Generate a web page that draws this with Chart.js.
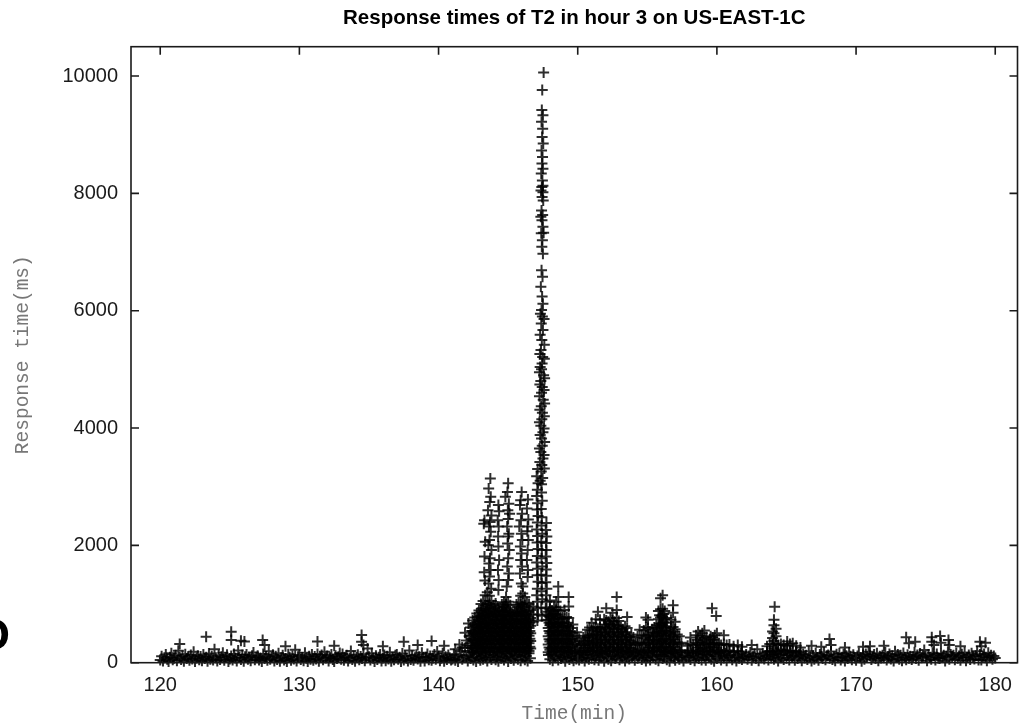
<!DOCTYPE html>
<html><head><meta charset="utf-8">
<script src="https://cdn.jsdelivr.net/npm/chart.js@4"></script>
<style>html,body{margin:0;padding:0;background:#fff;}#wrap{width:1025px;height:724px;position:relative;}canvas{display:block;}</style>
</head><body><div id="wrap"><canvas id="c" width="1025" height="724"></canvas></div>
<script>
const chartTitle = "Response times of T2 in hour 3 on US-EAST-1C";
const xTitle = "Time(min)";
const yTitle = "Response time(ms)";
const xTicks = [120,130,140,150,160,170,180];
const yTicks = [0,2000,4000,6000,8000,10000];

// steady traffic band: [minute, ms]
const band = [
[120,45],[120.1,110],[120.2,30],[120.3,85],[120.4,140],[120.5,60],[120.6,20],[120.7,95],[120.8,160],[120.9,50],
[121,75],[121.1,125],[121.2,35],[121.3,205],[121.4,90],[121.5,55],[121.6,115],[121.7,25],[121.8,145],[121.9,70],
[122,100],[122.1,40],[122.2,130],[122.3,65],[122.4,185],[122.5,20],[122.6,80],[122.7,120],[122.8,50],[122.9,105],
[123,35],[123.1,140],[123.2,70],[123.3,95],[123.4,25],[123.5,155],[123.6,60],[123.7,110],[123.8,45],[123.9,230],
[124,85],[124.1,30],[124.2,125],[124.3,55],[124.4,100],[124.5,170],[124.6,40],[124.7,90],[124.8,135],[124.9,20],
[125,65],[125.1,115],[125.2,45],[125.3,150],[125.4,80],[125.5,30],[125.6,210],[125.7,95],[125.8,55],[125.9,130],
[126,25],[126.1,100],[126.2,140],[126.3,60],[126.4,85],[126.5,35],[126.6,120],[126.7,175],[126.8,50],[126.9,95],
[127,120],[127.1,45],[127.2,80],[127.3,20],[127.4,150],[127.5,70],[127.6,105],[127.7,40],[127.8,195],[127.9,60],
[128,90],[128.1,135],[128.2,30],[128.3,110],[128.4,55],[128.5,160],[128.6,25],[128.7,85],[128.8,125],[128.9,45],
[129,70],[129.1,20],[129.2,145],[129.3,95],[129.4,40],[129.5,115],[129.6,65],[129.7,220],[129.8,30],[129.9,100],
[130,130],[130.1,55],[130.2,90],[130.3,35],[130.4,170],[130.5,75],[130.6,20],[130.7,110],[130.8,60],[130.9,140],
[131,40],[131.1,105],[131.2,65],[131.3,150],[131.4,25],[131.5,95],[131.6,130],[131.7,50],[131.8,185],[131.9,80],
[132,115],[132.1,30],[132.2,85],[132.3,140],[132.4,55],[132.5,20],[132.6,120],[132.7,70],[132.8,100],[132.9,165],
[133,60],[133.1,150],[133.2,40],[133.3,95],[133.4,125],[133.5,30],[133.6,80],[133.7,200],[133.8,55],[133.9,110],
[134,25],[134.1,90],[134.2,135],[134.3,50],[134.4,105],[134.5,70],[134.6,145],[134.7,35],[134.8,85],[134.9,240],
[135,100],[135.1,45],[135.2,160],[135.3,75],[135.4,20],[135.5,120],[135.6,55],[135.7,95],[135.8,140],[135.9,30],
[136,80],[136.1,130],[136.2,35],[136.3,110],[136.4,65],[136.5,180],[136.6,25],[136.7,90],[136.8,50],[136.9,125],
[137,140],[137.1,60],[137.2,95],[137.3,20],[137.4,155],[137.5,45],[137.6,115],[137.7,75],[137.8,30],[137.9,210],
[138,55],[138.1,120],[138.2,40],[138.3,85],[138.4,135],[138.5,65],[138.6,100],[138.7,25],[138.8,170],[138.9,90],
[139,30],[139.1,95],[139.2,150],[139.3,50],[139.4,115],[139.5,40],[139.6,80],[139.7,140],[139.8,60],[139.9,190],
[140,110],[140.1,35],[140.2,75],[140.3,160],[140.4,25],[140.5,100],[140.6,55],[140.7,130],[140.8,85],[140.9,45],
[141,65],[141.1,145],[141.2,40],[141.3,95],[141.4,20],[141.5,125],[141.6,200],[141.7,60],[141.8,110],[141.9,250],
[142,90],[142.1,30],[142.2,130],[142.3,70],[142.4,175],[142.5,45],[142.6,105],[142.7,20],[142.8,150],[142.9,80],
[143,40],[143.1,115],[143.2,60],[143.3,140],[143.4,85],[143.5,30],[143.6,170],[143.7,95],[143.8,55],[143.9,125],
[144,135],[144.1,50],[144.2,100],[144.3,25],[144.4,160],[144.5,75],[144.6,110],[144.7,45],[144.8,90],[144.9,145],
[145,20],[145.1,120],[145.2,70],[145.3,155],[145.4,40],[145.5,100],[145.6,130],[145.7,60],[145.8,185],[145.9,35],
[146,95],[146.1,140],[146.2,50],[146.3,115],[146.4,30],[146.5,160],[146.6,75],
[147.9,130],
[148,60],[148.1,150],[148.2,35],[148.3,110],[148.4,85],[148.5,190],[148.6,45],[148.7,125],[148.8,70],[148.9,100],
[149,140],[149.1,25],[149.2,95],[149.3,165],[149.4,55],[149.5,120],[149.6,80],[149.7,35],[149.8,150],[149.9,65],
[150,110],[150.1,45],[150.2,175],[150.3,80],[150.4,130],[150.5,30],[150.6,95],[150.7,145],[150.8,60],[150.9,200],
[151,75],[151.1,135],[151.2,50],[151.3,105],[151.4,165],[151.5,40],[151.6,120],[151.7,85],[151.8,150],[151.9,25],
[152,155],[152.1,90],[152.2,60],[152.3,190],[152.4,35],[152.5,115],[152.6,140],[152.7,70],[152.8,100],[152.9,225],
[153,50],[153.1,125],[153.2,85],[153.3,160],[153.4,30],[153.5,105],[153.6,145],[153.7,65],[153.8,180],[153.9,95],
[154,120],[154.1,40],[154.2,150],[154.3,75],[154.4,110],[154.5,170],[154.6,55],[154.7,135],[154.8,90],[154.9,30],
[155,85],[155.1,160],[155.2,45],[155.3,120],[155.4,95],[155.5,200],[155.6,60],[155.7,140],[155.8,35],[155.9,110],
[156,135],[156.1,70],[156.2,105],[156.3,180],[156.4,50],[156.5,150],[156.6,25],[156.7,115],[156.8,165],[156.9,80],
[157,40],[157.1,145],[157.2,95],[157.3,60],[157.4,175],[157.5,110],[157.6,30],[157.7,130],[157.8,85],[157.9,210],
[158,100],[158.1,55],[158.2,165],[158.3,120],[158.4,35],[158.5,90],[158.6,150],[158.7,70],[158.8,185],[158.9,45],
[159,150],[159.1,85],[159.2,40],[159.3,130],[159.4,105],[159.5,195],[159.6,60],[159.7,145],[159.8,25],[159.9,115],
[160,70],[160.1,170],[160.2,110],[160.3,45],[160.4,140],[160.5,80],[160.6,155],[160.7,35],[160.8,120],[160.9,95],
[161,125],[161.1,50],[161.2,185],[161.3,90],[161.4,30],[161.5,135],[161.6,75],[161.7,160],[161.8,55],[161.9,105],
[162,90],[162.1,140],[162.2,60],[162.3,115],[162.4,175],[162.5,40],[162.6,100],[162.7,150],[162.8,70],[162.9,230],
[163,35],[163.1,120],[163.2,85],[163.3,155],[163.4,65],[163.5,110],[163.6,190],[163.7,45],[163.8,135],[163.9,80],
[164,145],[164.1,60],[164.2,100],[164.3,170],[164.4,30],[164.5,125],[164.6,85],[164.7,150],[164.8,55],[164.9,205],
[165,75],[165.1,130],[165.2,45],[165.3,165],[165.4,95],[165.5,115],[165.6,40],[165.7,180],[165.8,70],[165.9,140],
[166,110],[166.1,35],[166.2,150],[166.3,80],[166.4,125],[166.5,55],[166.6,195],[166.7,95],[166.8,30],[166.9,120],
[167,60],[167.1,165],[167.2,90],[167.3,40],[167.4,140],[167.5,105],[167.6,70],[167.7,175],[167.8,50],[167.9,115],
[168,130],[168.1,75],[168.2,190],[168.3,55],[168.4,100],[168.5,35],[168.6,145],[168.7,85],[168.8,160],[168.9,45],
[169,95],[169.1,150],[169.2,30],[169.3,120],[169.4,70],[169.5,175],[169.6,110],[169.7,50],[169.8,135],[169.9,80],
[170,40],[170.1,115],[170.2,165],[170.3,85],[170.4,25],[170.5,130],[170.6,60],[170.7,150],[170.8,100],[170.9,185],
[171,120],[171.1,55],[171.2,95],[171.3,140],[171.4,70],[171.5,160],[171.6,35],[171.7,110],[171.8,80],[171.9,125],
[172,85],[172.1,175],[172.2,45],[172.3,105],[172.4,150],[172.5,65],[172.6,120],[172.7,30],[172.8,195],[172.9,90],
[173,140],[173.1,60],[173.2,125],[173.3,35],[173.4,165],[173.5,95],[173.6,50],[173.7,135],[173.8,75],[173.9,110],
[174,55],[174.1,100],[174.2,180],[174.3,70],[174.4,130],[174.5,40],[174.6,155],[174.7,85],[174.8,115],[174.9,215],
[175,105],[175.1,35],[175.2,140],[175.3,90],[175.4,60],[175.5,170],[175.6,120],[175.7,45],[175.8,150],[175.9,80],
[176,70],[176.1,155],[176.2,95],[176.3,125],[176.4,30],[176.5,110],[176.6,185],[176.7,60],[176.8,140],[176.9,100],
[177,125],[177.1,50],[177.2,165],[177.3,75],[177.4,115],[177.5,40],[177.6,145],[177.7,90],[177.8,175],[177.9,35],
[178,90],[178.1,130],[178.2,55],[178.3,160],[178.4,100],[178.5,65],[178.6,120],[178.7,195],[178.8,45],[178.9,140],
[179,45],[179.1,110],[179.2,150],[179.3,85],[179.4,35],[179.5,170],[179.6,95],[179.7,125],[179.8,60],[179.9,115],
[180,80]
];

// surge before the spike: [minute, ms, ms, ...]
const surge = [
[141.2,230],[141.5,310],[141.7,260],[141.9,510],[142.0,380],[142.1,290],[142.15,670],[142.2,450],
[142.3,200,330,470,600],
[142.45,180,290,410,540,720],
[142.6,230,350,490,620,770],
[142.75,170,300,430,560,690,840],
[142.9,210,340,480,600,740,890],
[143.05,190,320,450,590,710,860,1000],
[143.2,240,360,500,620,760,900,1050],
[143.35,180,310,440,570,700,840,980,1150],
[143.5,220,350,480,610,750,880,1020,1200],
[143.65,200,330,460,590,720,860,1000,1140],
[143.8,250,370,510,630,770,910,1050],
[143.95,190,320,450,580,720,850,980],
[144.1,210,340,470,600,730,870,1010],
[144.25,180,310,440,570,700,830,960],
[144.4,230,360,490,620,750,880],
[144.55,200,330,460,590,720,860,990],
[144.7,220,350,480,610,740,880,1030],
[144.85,190,320,450,580,710,850,990,1120],
[145.0,240,370,500,630,760,900,1040],
[145.15,200,330,460,590,720,860,980],
[145.3,180,310,440,570,700,830],
[145.45,220,350,480,610,740,870],
[145.6,200,330,460,590,720,850,990],
[145.75,230,360,490,620,750,890,1030],
[145.9,190,320,450,580,710,850,990,1140],
[146.05,210,340,470,600,730,870,1010,1180,1300],
[146.2,180,310,440,570,700,840,980,1120],
[146.35,220,350,480,610,740,880,1020],
[146.5,200,330,460,590,720,860,1000],
[146.62,240,370,500,630,760,900],
[146.8,700,820,960],
[143.72,3140],[143.6,2970],[143.75,2830],[143.68,2740],[143.55,2600],[143.8,2510],[143.7,2400],[143.62,2320],[143.75,2230],
[143.66,2090],[143.58,2000],[143.8,1920],[143.7,1780],[143.62,1690],[143.74,1580],[143.66,1470],[143.6,1350],[143.78,1260],
[143.3,2430],[143.25,2370],[143.35,2060],[143.3,1810],[143.28,1540],[143.33,1400],
[144.3,2690],[144.35,2580],[144.25,2430],[144.32,2320],[144.28,2150],[144.3,1980],[144.35,1750],[144.27,1580],[144.32,1410],[144.3,1240],
[145.0,3060],[144.95,2910],[144.8,2830],[145.05,2710],[144.98,2600],[145.1,2540],[145.0,2450],[144.93,2320],[145.05,2200],
[145.0,2150],[144.96,2030],[145.08,1920],[145.0,1780],[144.94,1640],[145.05,1520],[145.0,1410],[144.9,1300],
[145.97,2910],[145.9,2770],[145.85,2690],[146.0,2540],[145.92,2430],[145.8,2320],[145.95,2200],[146.02,2090],[145.88,1980],
[145.96,1860],[145.9,1750],[146.0,1640],[145.85,1520],[145.95,1350],
[146.42,2780],[146.35,2630],[146.45,2440],[146.4,2320],[146.38,2240],[146.45,2090],[146.4,1920],[146.35,1750],[146.42,1580],[146.4,1460]
];

// the spike around minute 147
const spike = [
[147.55,10060],[147.45,9760],[147.42,9420],[147.5,9330],[147.4,9220],[147.48,9100],[147.44,8960],[147.52,8850],[147.4,8730],
[147.47,8620],[147.43,8510],[147.5,8420],[147.38,8340],[147.46,8220],[147.5,8130],[147.42,8110],[147.36,8050],[147.5,8020],
[147.44,7940],[147.52,7880],[147.4,7710],[147.48,7630],[147.35,7600],[147.43,7540],[147.5,7430],[147.55,7330],[147.38,7320],
[147.46,7200],[147.42,7090],[147.5,6970],[147.4,6690],[147.47,6580],[147.35,6410],[147.44,6240],[147.5,6120],[147.4,6010],
[147.32,5950],[147.46,5900],[147.58,5860],[147.38,5780],[147.5,5670],[147.3,5590],[147.42,5500],[147.6,5420],[147.36,5330],
[147.28,5260],[147.48,5210],[147.6,5180],[147.44,5100],[147.3,5040],[147.4,5000],[147.25,4950],[147.55,4900],[147.62,4850],
[147.35,4800],[147.28,4740],[147.45,4700],[147.58,4650],[147.4,4600],[147.25,4540],[147.52,4480],[147.62,4420],[147.38,4370],
[147.28,4310],[147.46,4260],[147.6,4200],[147.42,4150],[147.25,4100],[147.35,4040],[147.58,3990],[147.5,3930],[147.3,3880],
[147.4,3820],[147.62,3760],[147.45,3700],[147.25,3650],[147.35,3590],[147.58,3540],[147.5,3480],[147.28,3420],[147.42,3370],
[147.6,3310],[147.38,3260],[147.48,3150],[147.3,3100],[147.4,3040],
[147.12,3300],[147.05,3180],[147.15,3060],[147.1,2950],[147.05,2840],[147.12,2720],[147.08,2610],[147.15,2500],[147.1,2390],
[147.05,2270],[147.12,2160],[147.08,2050],[147.15,1940],[147.1,1820],[147.05,1710],[147.12,1600],[147.08,1490],[147.15,1380],
[147.1,1260],[147.05,1150],[147.12,1040],[147.08,930],[147.15,820],[147.1,720],
[147.4,2900],[147.45,2760],[147.38,2620],[147.42,2480],[147.4,2340],[147.45,2200],[147.38,2060],[147.42,1920],[147.4,1780],
[147.45,1640],[147.38,1500],[147.42,1360],[147.4,1220],[147.45,1080],[147.38,940],[147.42,800],
[147.75,2380],[147.7,2260],[147.78,2150],[147.72,2040],[147.76,1920],[147.7,1810],[147.78,1700],[147.73,1590],[147.76,1480],
[147.7,1370],[147.78,1260],[147.72,1150],[147.76,1040],[147.7,930],[147.78,820],[147.73,720]
];

// tail of the event: [minute, ms, ms, ...]
const after = [
[147.88,180,310,450,590,730,870],
[148.0,220,360,500,640,780,920,1060],
[148.15,190,330,470,610,750,890],
[148.3,240,380,520,660,800,950],
[148.45,200,340,480,620,760,900,1040],
[148.6,230,370,510,650,790,940,1120,1300],
[148.75,180,320,460,600,740,880],
[148.9,210,350,490,630,770],
[149.05,190,330,470,610,750,900],
[149.2,220,360,500,640,780],
[149.35,200,340,480,620,760,960,1120],
[149.5,180,310,450,590],
[149.65,230,370,510,650],
[149.8,190,320,460],
[149.95,210,350,520],
[150.1,170,290,410],[150.25,200,320],[150.4,180,300,430],[150.55,210,330,460],[150.7,190,310,440,560],
[150.85,220,340,470,600],[151.0,180,300,420,550,680],[151.15,200,330,460,590],[151.3,230,350,480,610,740],
[151.45,190,320,450,580,870],[151.6,210,340,470,600,730],[151.75,180,300,430,560],[151.9,220,350,480,610,740],
[152.05,200,330,460,590,720,930],[152.2,190,310,440,570,700],[152.35,230,360,490,620,760],[152.5,200,330,460,590,720,850],
[152.65,180,310,440,570,700],[152.8,220,350,480,620,760,900,1120],[152.95,190,320,450,580,710],[153.1,210,340,470,600],
[153.25,180,310,440,570],[153.4,230,360,490,620],[153.55,200,330,460,590,780],[153.7,190,310,440],[153.85,220,350,480],
[154.0,180,300,430],[154.15,210,330],[154.3,190,320,450],[154.45,230,350,560],[154.6,200,330,470]
];

// later bursts: [minute, ms, ms, ...]
const bumps = [
[154.75,180,300,420,550],[154.9,210,340,470,610,770],[155.05,190,320,450,590,730],[155.2,220,350,480],
[155.35,180,310,440,570],[155.5,200,330,460,600],[155.65,230,360,500,640],[155.8,190,320,460,600,740,880],
[155.95,210,350,490,630,770,910,1100],[156.1,220,360,500,640,780,920,1150],[156.25,180,320,460,600,740,880],
[156.4,200,340,480,620,760],[156.55,230,360,500],[156.7,190,320,450,590,730],[156.85,210,340,470,610,850,980],
[157.0,180,310,440,570,700],[157.15,220,350,480],[157.3,190,320,450],[157.45,210,340],
[157.9,170,290],[158.1,200,320,430],[158.3,180,300],[158.5,210,340,470],[158.65,190,310,530],[158.8,220,350,460],
[158.95,180,300,420,500],[159.1,210,330,550],[159.25,190,320,440],[159.4,230,350],[159.55,200,320,450],[159.65,926],
[159.7,180,310,430],[159.85,220,340,470],[159.95,796],[160.0,190,310,500],[160.15,210,330],[160.3,180,300],
[160.5,200,320,470],[160.7,190,300],[160.9,210,310],[161.2,180,280],[161.5,200,300],[161.8,190,270],
[163.6,180,280],[163.8,200,320],[164.0,190,310,420,530],[164.1,240,370,500,640,730],[164.15,955],[164.25,210,330,450,580],
[164.4,190,300],[164.6,220,320],[164.8,200,300],[165.05,180,290,360],[165.25,210,320],[165.45,190,330],[165.7,200,290],[166.0,180,260]
];

// extra requests inside the busiest stretches: [minute, ms, ms, ...]
const crowded = [
[142.38,260,400,540],[142.53,240,370,500,650],[142.68,260,390,520,640],[142.83,250,380,510,650,780],
[142.98,270,400,530,670,800],[143.13,250,390,520,650,790,930],[143.28,260,400,540,680,820],[143.43,240,380,510,650,790,920],
[143.58,270,410,540,680,820,960],[143.73,250,390,520,660,800,940],[143.88,260,400,540,680,820],[144.03,240,380,510,650,790,930],
[144.18,270,410,540,670,800],[144.33,250,390,520,650,780,900],[144.48,260,400,530,670,810],[144.63,240,380,520,660,800,940],
[144.78,270,410,540,680,810,960],[144.93,250,390,520,660,790,930],[145.08,260,400,540,680,820],[145.23,240,380,510,650,790],
[145.38,270,410,540,670,800],[145.53,250,390,520,660,800],[145.68,260,400,540,680,820,950],[145.83,240,380,510,650,790,920],
[145.98,270,410,540,680,820,960],[146.13,250,390,520,660,800,940],[146.28,260,400,540,680,820],[146.43,240,380,510,650,790],
[146.56,270,410,540,680],
[147.94,260,400,540,680,800],[148.08,250,390,530,670,820],[148.23,270,410,550,690,840],[148.38,260,400,540,680,830],
[148.53,250,390,530,670,820],[148.68,270,410,550,690],[148.83,260,400,540,680],[148.98,250,390,530,670],
[149.13,270,410,550],[149.28,260,400,540,680],[149.43,250,390,530],[149.58,270,410],
[150.48,250,370],[150.78,260,380],[151.08,250,370,490],[151.38,270,400,530],[151.68,260,390,520],[151.98,250,380,510,650],
[152.28,270,400,530,660],[152.58,260,390,520,650],[152.88,250,380,510,640],[153.18,270,400,530],[153.48,260,390,520],[153.78,250,380],
[155.13,260,390],[155.43,250,380,510],[155.73,270,400,530],[155.88,260,390,530,670,810],[156.03,250,380,520,660,800],
[156.18,270,410,550,690,830],[156.33,260,400,540,680],[156.63,250,380,510],[156.93,270,400,530],
[158.58,260,390],[159.03,250,380],[159.48,270,400],[159.78,260,390]
];

// isolated slow requests: [minute, ms]
const outliers = [
[121.4,320],[123.3,443],[125.1,528],[125.1,386],[125.8,375],[126.05,360],[127.36,386],[127.5,300],[129.0,280],[131.3,360],
[132.5,290],[134.47,472],[134.47,358],[134.6,300],[136.0,280],[137.5,358],[138.5,300],[139.5,370],[140.4,290],[168.09,404],
[168.2,300],[170.5,270],[172.0,290],[173.6,433],[173.8,330],[174.25,358],[175.44,433],[175.44,358],[175.6,300],[176.04,455],
[176.1,340],[176.64,387],[176.7,300],[177.5,280],[178.9,358],[179.3,340],[179.0,280],[162.5,300],[166.8,290],[167.5,270],
[169.2,260],[171.0,280]
];

const toPoints = rows => rows.flatMap(([t, ...vs]) => vs.map(v => ({x: t, y: v})));
const markStyle = {
  showLine: false, pointStyle: 'cross', pointRadius: 5.5, pointHoverRadius: 5.5,
  borderWidth: 2, pointBorderWidth: 2,
  borderColor: 'rgba(0,0,0,0.82)', pointBorderColor: 'rgba(0,0,0,0.82)',
  backgroundColor: 'rgba(0,0,0,0)', clip: false
};
const datasets = [band, surge, crowded, spike, after, bumps, outliers].map((rows, i) =>
  Object.assign({label: 'T2 ' + i, data: toPoints(rows)}, markStyle));

const frame = {
  id: 'frame',
  afterDatasetsDraw(chart) {
    const {ctx, chartArea: a, scales: {x, y}} = chart;
    ctx.save();
    ctx.strokeStyle = '#1a1a1a';
    ctx.lineWidth = 1.6;
    ctx.strokeRect(a.left, a.top, a.right - a.left, a.bottom - a.top);
    const L = 8;
    ctx.beginPath();
    x.ticks.forEach(t => { const p = x.getPixelForValue(t.value);
      ctx.moveTo(p, a.bottom); ctx.lineTo(p, a.bottom - L);
      ctx.moveTo(p, a.top); ctx.lineTo(p, a.top + L); });
    y.ticks.forEach(t => { const p = y.getPixelForValue(t.value);
      ctx.moveTo(a.left, p); ctx.lineTo(a.left + L, p);
      ctx.moveTo(a.right, p); ctx.lineTo(a.right - L, p); });
    ctx.stroke();
    ctx.restore();
  },
  afterDraw(chart) {
    const ctx = chart.ctx;
    ctx.save();
    ctx.fillStyle = '#000';
    ctx.font = 'bold 45px "Liberation Sans", Arial, sans-serif';
    ctx.textAlign = 'right';
    ctx.textBaseline = 'alphabetic';
    ctx.fillText('O', 10, 650);
    ctx.restore();
  }
};

const tickFont = {family: '"Liberation Sans", Arial, sans-serif', size: 20};
const axisFont = {family: '"Liberation Mono", "Courier New", monospace', size: 19.5, lineHeight: 1};

new Chart(document.getElementById('c'), {
  type: 'scatter',
  data: {datasets},
  options: {
    responsive: false, animation: false, events: [],
    layout: {padding: {left: 0, right: 3.3, top: 0, bottom: 0}},
    plugins: {
      legend: {display: false}, tooltip: {enabled: false},
      title: {display: true, text: chartTitle, fullSize: false, color: '#000',
        font: {family: '"Liberation Sans", Arial, sans-serif', size: 20.5, weight: 'bold', lineHeight: 1.2},
        padding: {top: 6, bottom: 16.1}}
    },
    scales: {
      x: {
        type: 'linear', position: 'bottom', min: 117.9, max: 181.6,
        afterBuildTicks: s => { s.ticks = xTicks.map(v => ({value: v})); },
        afterFit: s => { s.height = 61.3; },
        ticks: {font: tickFont, color: '#1a1a1a', padding: 11, maxRotation: 0, autoSkip: false, callback: v => String(v)},
        grid: {display: false, drawTicks: false}, border: {display: false},
        title: {display: true, text: xTitle, color: '#777', font: axisFont, padding: 0}
      },
      y: {
        type: 'linear', position: 'left', min: 0, max: 10500,
        afterBuildTicks: s => { s.ticks = yTicks.map(v => ({value: v})); },
        afterFit: s => { s.width = 131; },
        ticks: {font: tickFont, color: '#1a1a1a', padding: 13, autoSkip: false, callback: v => String(v)},
        grid: {display: false, drawTicks: false}, border: {display: false},
        title: {display: true, text: yTitle, color: '#777', font: axisFont, padding: {top: 13, bottom: 0}}
      }
    }
  },
  plugins: [frame]
});
</script>
</body></html>
